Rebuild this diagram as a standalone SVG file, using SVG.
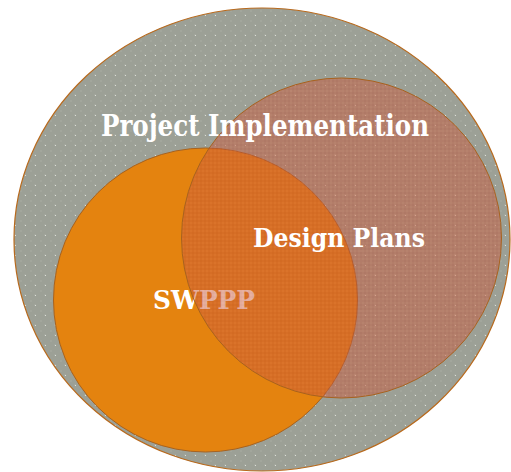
<svg xmlns="http://www.w3.org/2000/svg" width="511" height="472" viewBox="0 0 511 472">
  <defs>
    <pattern id="dots" x="0" y="0" width="10" height="10" patternUnits="userSpaceOnUse">
      <rect width="10" height="10" fill="#9ca096"/>
      <rect x="0" y="0" width="2" height="2" fill="#a2a69c"/>
      <rect x="4" y="4" width="2" height="2" fill="#a2a69c"/>
      <rect x="5" y="5" width="1" height="1" fill="#dcdfd8"/>
    </pattern>
    <pattern id="weave" x="0" y="0" width="4" height="4" patternUnits="userSpaceOnUse">
      <rect width="4" height="4" fill="#c95a3c"/>
      <rect x="0" y="0" width="2" height="2" fill="#c25336"/>
      <rect x="2" y="2" width="2" height="2" fill="#d06444"/>
    </pattern>
    <style>
      .lbl { font-family: "DejaVu Serif", "Liberation Serif", serif; font-weight: bold; fill: #ffffff; }
    </style>
  </defs>

  <g id="project-implementation">
    <ellipse cx="262" cy="239.5" rx="248" ry="231.5" fill="url(#dots)" stroke="#b8691c" stroke-width="1.2"/>
  </g>

  <g id="swppp">
    <circle cx="205.5" cy="300" r="152" fill="#e4830f" stroke="#a8621e" stroke-width="1"/>
    <text class="lbl" x="153" y="309" font-size="26" textLength="102" lengthAdjust="spacingAndGlyphs">SWPPP</text>
  </g>

  <g id="design-plans">
    <circle cx="341.5" cy="238" r="160" fill="url(#weave)" fill-opacity="0.5" stroke="#a8621e" stroke-width="1"/>
    <text class="lbl" x="253" y="247" font-size="26" textLength="172" lengthAdjust="spacingAndGlyphs">Design Plans</text>
  </g>

  <g id="project-label">
    <text class="lbl" x="101" y="136" font-size="29" textLength="328" lengthAdjust="spacingAndGlyphs">Project Implementation</text>
  </g>

  <g id="connectors"></g>
</svg>
